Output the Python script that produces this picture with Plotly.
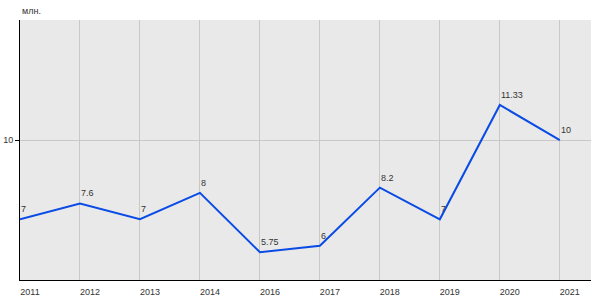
import plotly.graph_objects as go

years = ["2011", "2012", "2013", "2014", "2016", "2017", "2018", "2019", "2020", "2021"]
values = [7, 7.6, 7, 8, 5.75, 6, 8.2, 7, 11.33, 10]
labels = ["7", "7.6", "7", "8", "5.75", "6", "8.2", "7", "11.33", "10"]

FONT = "Arial, Liberation Sans"
xs = list(range(len(years)))

fig = go.Figure()
fig.add_trace(go.Scatter(
    x=xs, y=values, mode="lines",
    line=dict(color="#0a4be6", width=2),
    cliponaxis=False, hoverinfo="skip",
))
annots = [dict(text="млн.", xref="paper", yref="paper", x=0, y=1, xanchor="left",
               yanchor="bottom", yshift=2, showarrow=False,
               font=dict(family=FONT, size=9, color="#333333"))]
for xi, v, t in zip(xs, values, labels):
    annots.append(dict(x=xi, y=v, xref="x", yref="y", text=t, showarrow=False,
                       xanchor="left", yanchor="bottom", xshift=-1, yshift=3,
                       font=dict(family=FONT, size=9, color="#333333")))
fig.update_layout(
    width=600, height=300,
    margin=dict(l=20, r=9, t=20, b=20),
    paper_bgcolor="white", plot_bgcolor="#e9e9e9",
    showlegend=False,
    font=dict(family=FONT, size=9, color="#333333"),
    annotations=annots,
)
fig.update_xaxes(
    range=[0, 9.52], tickmode="array", tickvals=xs, ticktext=years,
    showgrid=True, gridcolor="#c8c8c8", gridwidth=1,
    showline=True, linecolor="black", linewidth=1, zeroline=False,
    ticks="", ticklabelstandoff=3, ticklabelshift=10, automargin=False,
)
fig.update_yaxes(
    range=[4.7, 14.55], tickmode="array", tickvals=[10], ticktext=["10"],
    showgrid=True, gridcolor="#c8c8c8", gridwidth=1,
    showline=True, linecolor="black", linewidth=1, zeroline=False,
    ticks="outside", ticklen=4, tickcolor="black", automargin=False,
)
fig.write_html("out.html")
